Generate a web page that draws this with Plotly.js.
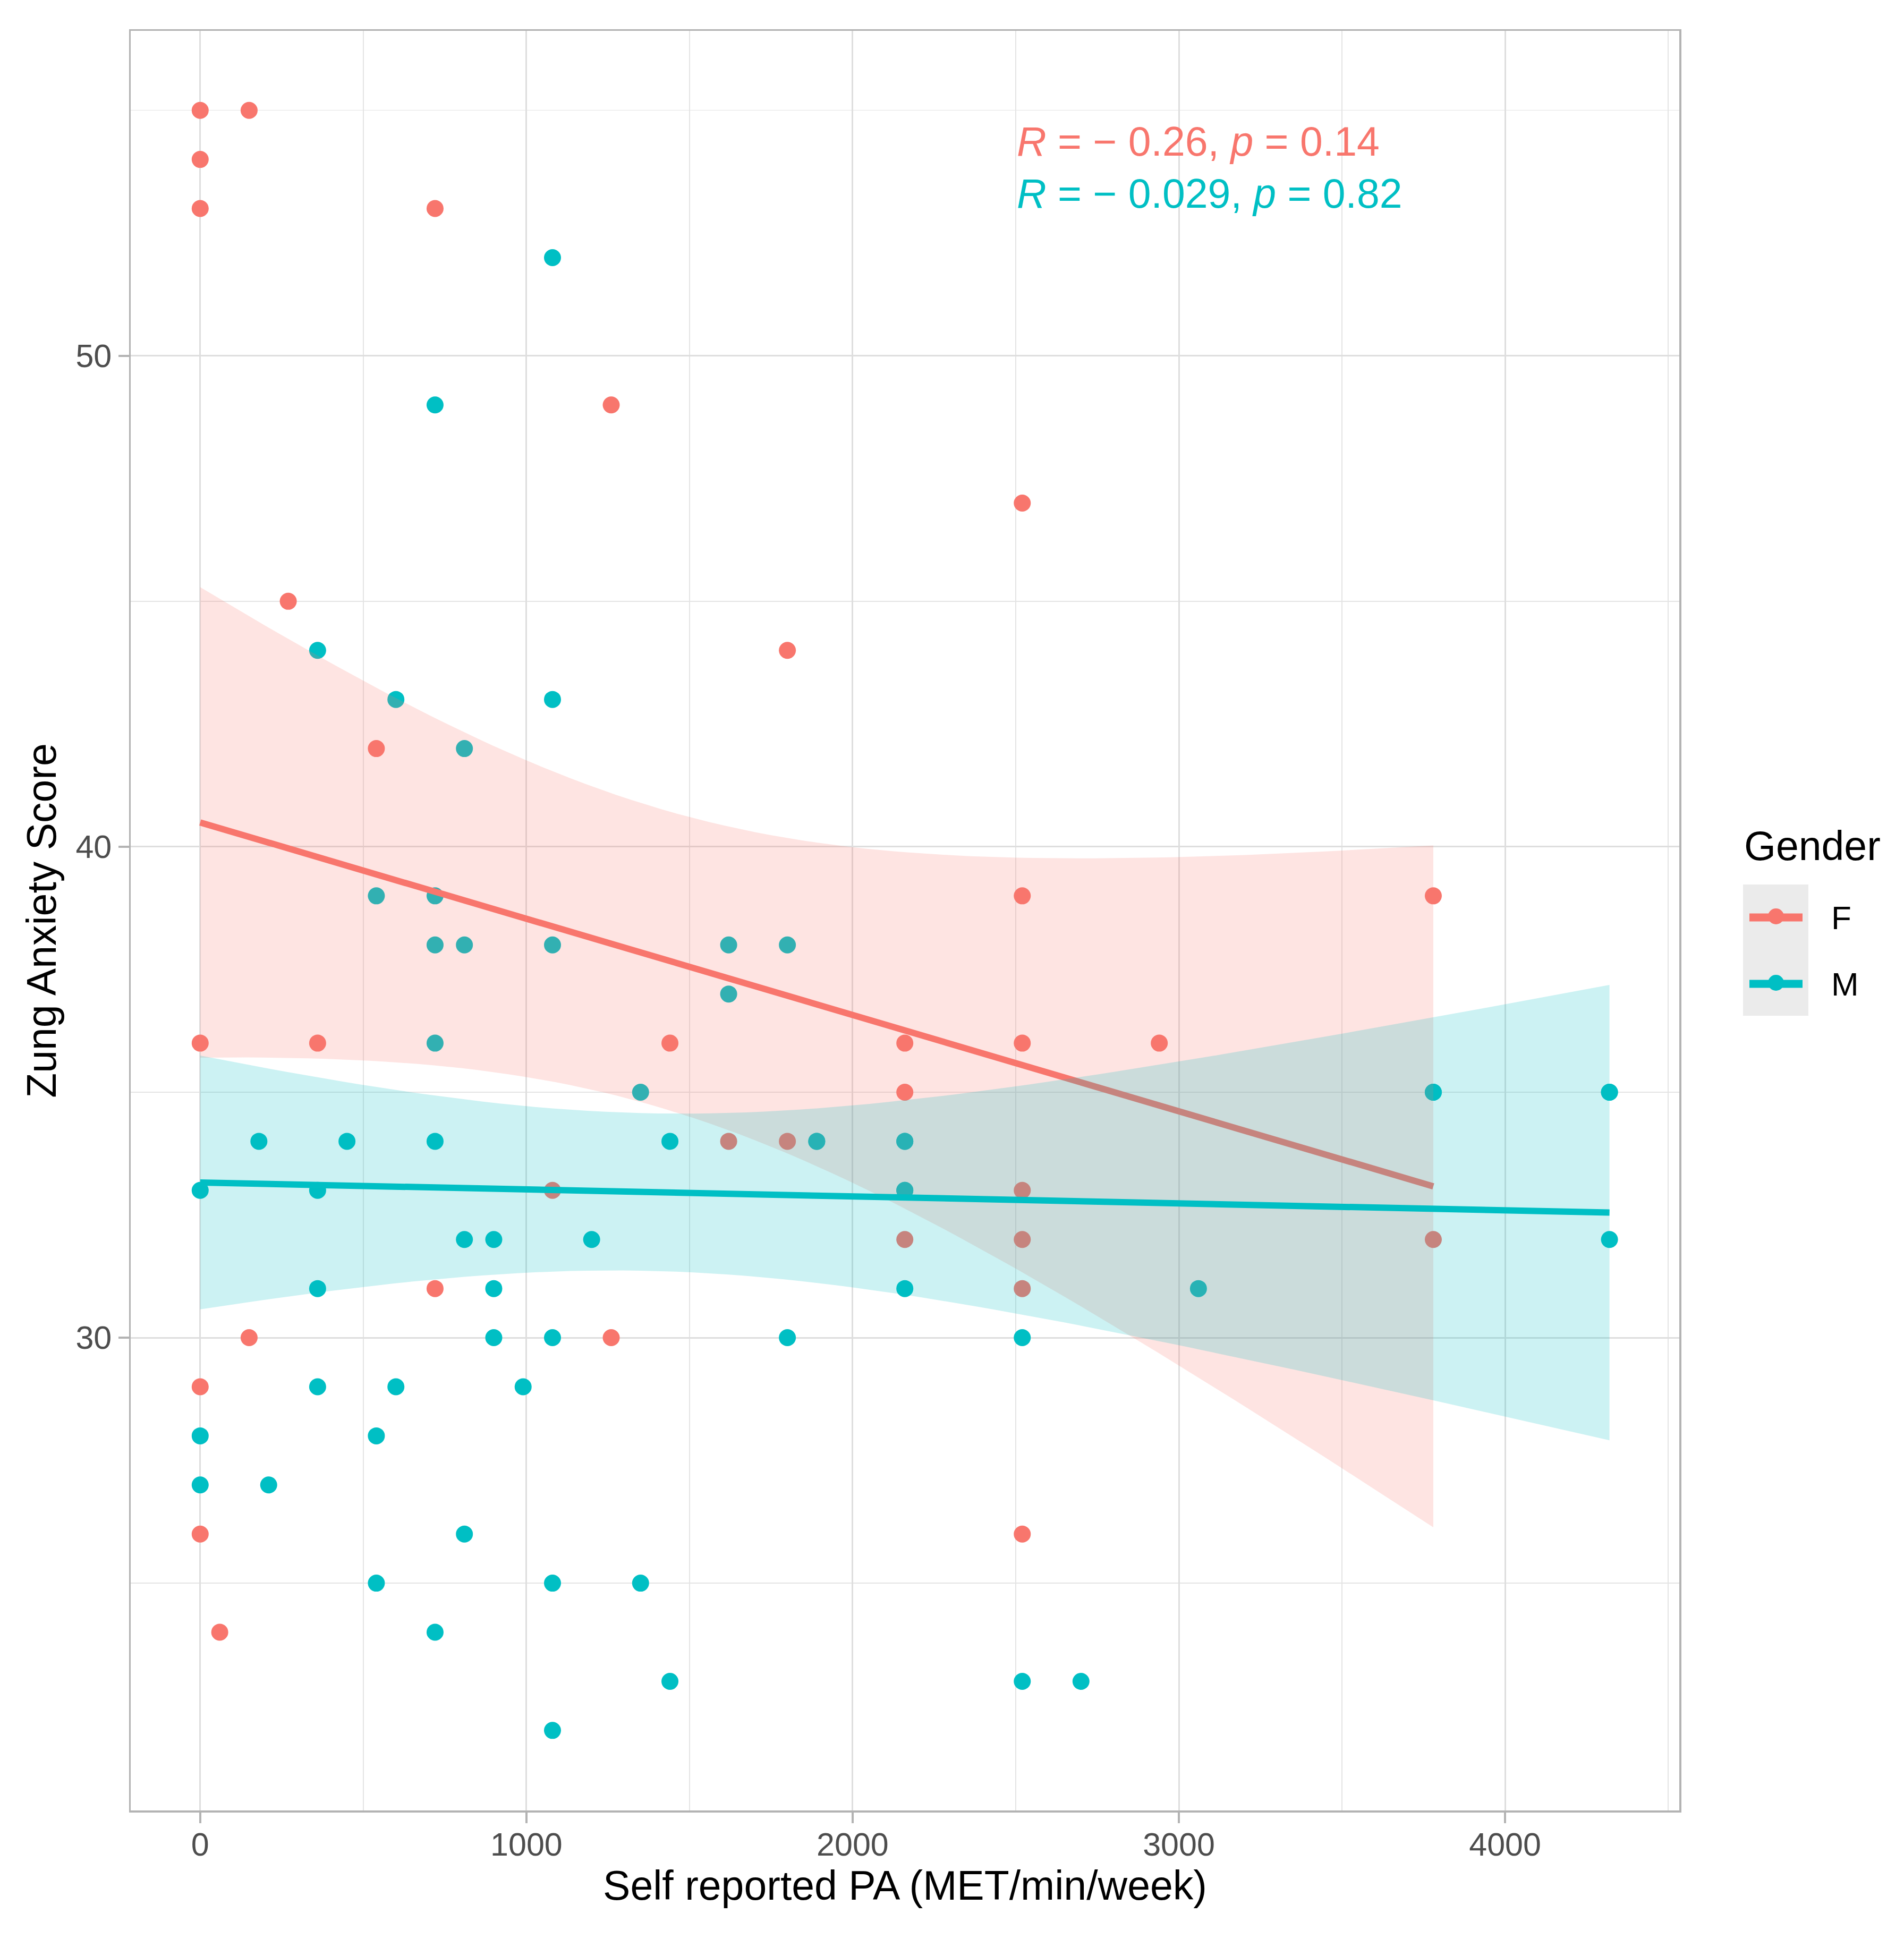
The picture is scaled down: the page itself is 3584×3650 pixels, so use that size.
<!DOCTYPE html>
<html>
<head>
<meta charset="utf-8">
<script src="https://cdn.plot.ly/plotly-3.0.1.min.js"></script>
<style>
  html, body { margin: 0; padding: 0; background: #fff; }
  #chart { width: 3584px; height: 3650px; }
</style>
</head>
<body>
<div id="chart"></div>
<script>
// Self reported PA vs Zung anxiety score, split by gender
var femalePA = [0, 150, 0, 0, 720, 1260, 2520, 270, 1800, 540, 2520, 3780, 0, 360, 1440, 2160, 2520, 2940,
  2160, 1620, 1800, 1080, 2520, 2160, 2520, 3780, 720, 2520, 150, 1260, 0, 0, 2520, 60];
var femaleScore = [55, 55, 54, 53, 53, 49, 47, 45, 44, 42, 39, 39, 36, 36, 36, 36, 36, 36,
  35, 34, 34, 33, 33, 32, 32, 32, 31, 31, 30, 30, 29, 26, 26, 24];

// last five are overlapping (hidden) points, guessed from the width/slope of the M fit band
var malePA = [1080, 720, 360, 600, 1080, 810, 540, 720, 720, 810, 1080, 1620, 1800, 1620, 720, 1350, 3780, 4320,
  180, 450, 720, 1440, 1890, 2160, 0, 360, 2160, 810, 900, 1200, 4320, 360, 900, 2160, 3060,
  900, 1080, 1800, 2520, 360, 600, 990, 0, 540, 0, 210, 810, 540, 1080, 1350, 720, 1440, 2520, 2700, 1080,
  4320, 3780, 2160, 2160, 1890];
var maleScore = [52, 49, 44, 43, 43, 42, 39, 39, 38, 38, 38, 38, 38, 37, 36, 35, 35, 35,
  34, 34, 34, 34, 34, 34, 33, 33, 33, 32, 32, 32, 32, 31, 31, 31, 31,
  30, 30, 30, 30, 29, 29, 29, 28, 28, 27, 27, 26, 25, 25, 25, 24, 23, 23, 23, 22,
  35, 35, 34, 33, 34];

var groups = ['F', 'M'];
var corLabels = ['<i>R</i> = \u2212 0.26, <i>p</i> = 0.14', '<i>R</i> = \u2212 0.029, <i>p</i> = 0.82'];
var xTicks = [0, 1000, 2000, 3000, 4000];
var yTicks = [30, 40, 50];

var RED = '#F8766D', TEAL = '#00BFC4';
var FONT = 'Liberation Sans, Arial, Helvetica, sans-serif';

// canvas geometry (px) -> paper coords
var W = 3584, H = 3650;
var M = {l: 246, r: 423, t: 58, b: 242};
var PW = W - M.l - M.r, PH = H - M.t - M.b;
function px(x) { return (x - M.l) / PW; }
function py(y) { return (H - M.b - y) / PH; }

// t quantile (Cornish-Fisher), for the 95% band of the linear fit
function tq(df) {
  var z = 1.959964;
  var z3 = z * z * z, z5 = z3 * z * z, z7 = z5 * z * z;
  return z + (z3 + z) / (4 * df) + (5 * z5 + 16 * z3 + 3 * z) / (96 * df * df)
    + (3 * z7 + 19 * z5 + 17 * z3 - 15 * z) / (384 * df * df * df);
}

function lmFit(xs, ys) {
  var n = xs.length, mx = 0, my = 0;
  for (var i = 0; i < n; i++) { mx += xs[i]; my += ys[i]; }
  mx /= n; my /= n;
  var sxx = 0, sxy = 0;
  for (i = 0; i < n; i++) { sxx += (xs[i] - mx) * (xs[i] - mx); sxy += (xs[i] - mx) * (ys[i] - my); }
  var b = sxy / sxx, a = my - b * mx, rss = 0;
  for (i = 0; i < n; i++) { var e = ys[i] - a - b * xs[i]; rss += e * e; }
  var s = Math.sqrt(rss / (n - 2)), t = tq(n - 2);
  var lo = Math.min.apply(null, xs), hi = Math.max.apply(null, xs);
  var gx = [], fit = [], up = [], dn = [];
  for (var k = 0; k <= 80; k++) {
    var x = lo + (hi - lo) * k / 80;
    var f = a + b * x;
    var se = s * Math.sqrt(1 / n + (x - mx) * (x - mx) / sxx);
    gx.push(x); fit.push(f); up.push(f + t * se); dn.push(f - t * se);
  }
  return {x: gx, fit: fit, up: up, dn: dn};
}

function rgba(hex, a) {
  var r = parseInt(hex.substr(1, 2), 16), g = parseInt(hex.substr(3, 2), 16), b = parseInt(hex.substr(5, 2), 16);
  return 'rgba(' + r + ',' + g + ',' + b + ',' + a + ')';
}

var series = [
  {name: groups[0], x: femalePA, y: femaleScore, color: RED},
  {name: groups[1], x: malePA, y: maleScore, color: TEAL}
];

var data = [];
series.forEach(function (s) {
  data.push({
    type: 'scatter', mode: 'markers', x: s.x, y: s.y, name: s.name,
    marker: {color: s.color, size: 32, line: {width: 0}},
    showlegend: false, hoverinfo: 'skip'
  });
});
series.forEach(function (s) {
  var fit = lmFit(s.x, s.y);
  data.push({
    type: 'scatter', mode: 'lines',
    x: fit.x.concat(fit.x.slice().reverse()),
    y: fit.up.concat(fit.dn.slice().reverse()),
    fill: 'toself', fillcolor: rgba(s.color, 0.2), line: {width: 0, color: 'rgba(0,0,0,0)'},
    showlegend: false, hoverinfo: 'skip'
  });
  data.push({
    type: 'scatter', mode: 'lines', x: fit.x, y: fit.fit,
    line: {color: s.color, width: 12}, showlegend: false, hoverinfo: 'skip'
  });
});

var axisBase = {
  showline: true, mirror: true, linecolor: '#b3b3b3', linewidth: 3.5,
  showgrid: true, gridcolor: '#dedede', gridwidth: 3, zeroline: false,
  ticks: 'outside', ticklen: 20, tickwidth: 3.5, tickcolor: '#b3b3b3',
  tickfont: {family: FONT, size: 61, color: '#4d4d4d'},
  automargin: true
};

var layout = {
  width: W, height: H,
  margin: M,
  paper_bgcolor: '#ffffff', plot_bgcolor: '#ffffff',
  showlegend: false,
  font: {family: FONT},
  xaxis: Object.assign({}, axisBase, {
    range: [-213, 4534], tickvals: xTicks, ticklabelstandoff: -12,
    minor: {dtick: 500, tick0: 0, showgrid: true, gridcolor: '#e4e4e4', gridwidth: 1.5, ticks: ''},
    title: {text: 'Self reported PA (MET/min/week)', font: {family: FONT, size: 77, color: '#000'}, standoff: 12}
  }),
  yaxis: Object.assign({}, axisBase, {
    range: [20.37, 56.62], tickvals: yTicks,
    minor: {dtick: 5, tick0: 0, showgrid: true, gridcolor: '#e4e4e4', gridwidth: 1.5, ticks: ''},
    title: {text: 'Zung Anxiety Score', font: {family: FONT, size: 77, color: '#000'}, standoff: 12}
  }),
  annotations: [
    {xref: 'paper', yref: 'paper', x: px(1912), y: py(266), xanchor: 'left', yanchor: 'middle',
      text: corLabels[0], showarrow: false, font: {family: FONT, size: 77, color: RED}},
    {xref: 'paper', yref: 'paper', x: px(1912), y: py(364), xanchor: 'left', yanchor: 'middle',
      text: corLabels[1], showarrow: false, font: {family: FONT, size: 77, color: TEAL}},
    {xref: 'paper', yref: 'paper', x: px(3281), y: py(1592), xanchor: 'left', yanchor: 'middle',
      text: 'Gender', showarrow: false, font: {family: FONT, size: 77, color: '#000'}},
    {xref: 'paper', yref: 'paper', x: px(3445), y: py(1727), xanchor: 'left', yanchor: 'middle',
      text: groups[0], showarrow: false, font: {family: FONT, size: 62, color: '#000'}},
    {xref: 'paper', yref: 'paper', x: px(3445), y: py(1852), xanchor: 'left', yanchor: 'middle',
      text: groups[1], showarrow: false, font: {family: FONT, size: 62, color: '#000'}}
  ],
  shapes: [
    {type: 'rect', xref: 'paper', yref: 'paper', x0: px(3281), x1: px(3404), y0: py(1912), y1: py(1665),
      fillcolor: '#ebebeb', line: {width: 0}, layer: 'below'}
  ]
};

// hand-built legend keys (line + dot) in the grey box
[[RED, 1727], [TEAL, 1852]].forEach(function (k) {
  layout.shapes.push({type: 'line', xref: 'paper', yref: 'paper', x0: px(3293), x1: px(3393),
    y0: py(k[1]), y1: py(k[1]), line: {color: k[0], width: 15}});
  layout.shapes.push({type: 'circle', xref: 'paper', yref: 'paper', xsizemode: 'pixel', ysizemode: 'pixel',
    xanchor: px(3343), yanchor: py(k[1] - 2), x0: -15, x1: 15, y0: -15, y1: 15,
    fillcolor: k[0], line: {width: 0}});
});

Plotly.newPlot('chart', data, layout, {displayModeBar: false, staticPlot: true});
</script>
</body>
</html>
